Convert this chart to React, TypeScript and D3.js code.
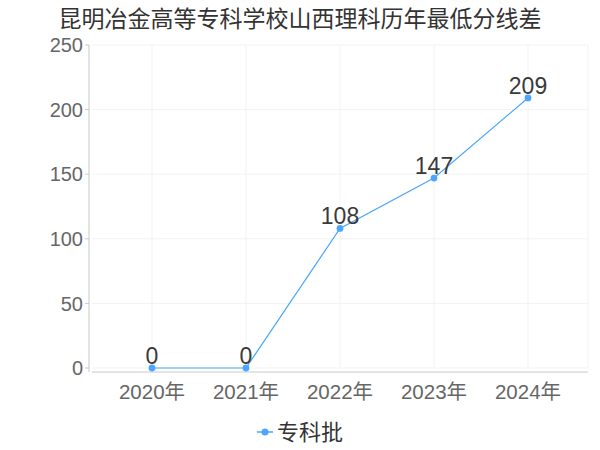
import { useRef, useEffect } from 'react';
import * as d3 from 'd3';

const title = '昆明冶金高等专科学校山西理科历年最低分线差';
const years = ['2020年', '2021年', '2022年', '2023年', '2024年'];
const values = [0, 0, 108, 147, 209];
const yTicks = [0, 50, 100, 150, 200, 250];
const seriesName = '专科批';

const FONT = '"Noto Sans CJK SC", "Noto Sans", sans-serif';
const NUM_FONT = '"Liberation Sans", "Noto Sans CJK SC", sans-serif';
const LINE = '#4aa6ff';

export default function App() {
  const svgRef = useRef<SVGSVGElement>(null);

  useEffect(() => {
    if (!svgRef.current) return;
    const width = 600;
    const height = 450;
    const svg = d3.select(svgRef.current);
    svg.selectAll('*').remove();
    svg.attr('width', width).attr('height', height);

    const left = 89;
    const right = 588;
    const top = 45;
    const bottom = 368;

    const x = d3.scalePoint<string>().domain(years).range([152, 528]);
    const y = d3.scaleLinear().domain([0, 250]).range([bottom, top]);

    // Title
    svg
      .append('text')
      .attr('x', 300)
      .attr('y', 27)
      .attr('text-anchor', 'middle')
      .attr('fill', '#333')
      .attr('font-size', '23px')
      .attr('font-family', FONT)
      .text(title);

    // Grid
    const grid = svg.append('g');
    yTicks.forEach((t) => {
      grid
        .append('line')
        .attr('x1', left + 3)
        .attr('x2', right)
        .attr('y1', y(t))
        .attr('y2', y(t))
        .attr('stroke', '#f2f2f2');
    });
    [...years.map((d) => x(d) || 0), right].forEach((px) => {
      grid
        .append('line')
        .attr('x1', px)
        .attr('x2', px)
        .attr('y1', top)
        .attr('y2', bottom)
        .attr('stroke', '#f2f2f2');
    });

    // Y axis
    svg
      .append('line')
      .attr('x1', left)
      .attr('x2', left)
      .attr('y1', top)
      .attr('y2', bottom + 4)
      .attr('stroke', '#c8c8c8');
    yTicks.forEach((t) => {
      svg
        .append('line')
        .attr('x1', left - 4)
        .attr('x2', left)
        .attr('y1', y(t))
        .attr('y2', y(t))
        .attr('stroke', '#c8c8c8');
      svg
        .append('text')
        .attr('x', left - 6)
        .attr('y', y(t))
        .attr('dy', '0.36em')
        .attr('text-anchor', 'end')
        .attr('fill', '#666')
        .attr('font-size', '20px')
        .attr('font-family', NUM_FONT)
        .text(t);
    });

    // X axis
    svg
      .append('line')
      .attr('x1', left + 3)
      .attr('x2', right)
      .attr('y1', bottom + 4)
      .attr('y2', bottom + 4)
      .attr('stroke', '#c8c8c8');
    years.forEach((yr) => {
      svg
        .append('text')
        .attr('x', x(yr) || 0)
        .attr('y', 392)
        .attr('dy', '0.36em')
        .attr('text-anchor', 'middle')
        .attr('fill', '#666')
        .attr('font-size', '20.5px')
        .attr('font-family', NUM_FONT)
        .text(yr);
    });

    // Line
    const line = d3
      .line<number>()
      .x((_, i) => x(years[i]) || 0)
      .y((d) => y(d));
    svg
      .append('path')
      .datum(values)
      .attr('d', line)
      .attr('fill', 'none')
      .attr('stroke', LINE)
      .attr('stroke-width', 1.2);

    svg
      .selectAll('.pt')
      .data(values)
      .enter()
      .append('circle')
      .attr('cx', (_, i) => x(years[i]) || 0)
      .attr('cy', (d) => y(d))
      .attr('r', 3.4)
      .attr('fill', LINE);

    svg
      .selectAll('.lbl')
      .data(values)
      .enter()
      .append('text')
      .attr('x', (_, i) => x(years[i]) || 0)
      .attr('y', (d) => y(d) - 4)
      .attr('text-anchor', 'middle')
      .attr('fill', '#3a3a3a')
      .attr('font-size', '23px')
      .attr('font-family', NUM_FONT)
      .text((d) => d);

    // Legend
    svg
      .append('line')
      .attr('x1', 257)
      .attr('x2', 273)
      .attr('y1', 432)
      .attr('y2', 432)
      .attr('stroke', LINE)
      .attr('stroke-width', 1.5);
    svg.append('circle').attr('cx', 265).attr('cy', 432).attr('r', 3.5).attr('fill', LINE);
    svg
      .append('text')
      .attr('x', 277)
      .attr('y', 432)
      .attr('dy', '0.36em')
      .attr('fill', '#333')
      .attr('font-size', '22px')
      .attr('font-family', FONT)
      .text(seriesName);
  }, []);

  return (
    <div style={{ position: 'absolute', left: 0, top: 0 }}>
      <svg ref={svgRef} style={{ display: 'block' }} />
    </div>
  );
}
